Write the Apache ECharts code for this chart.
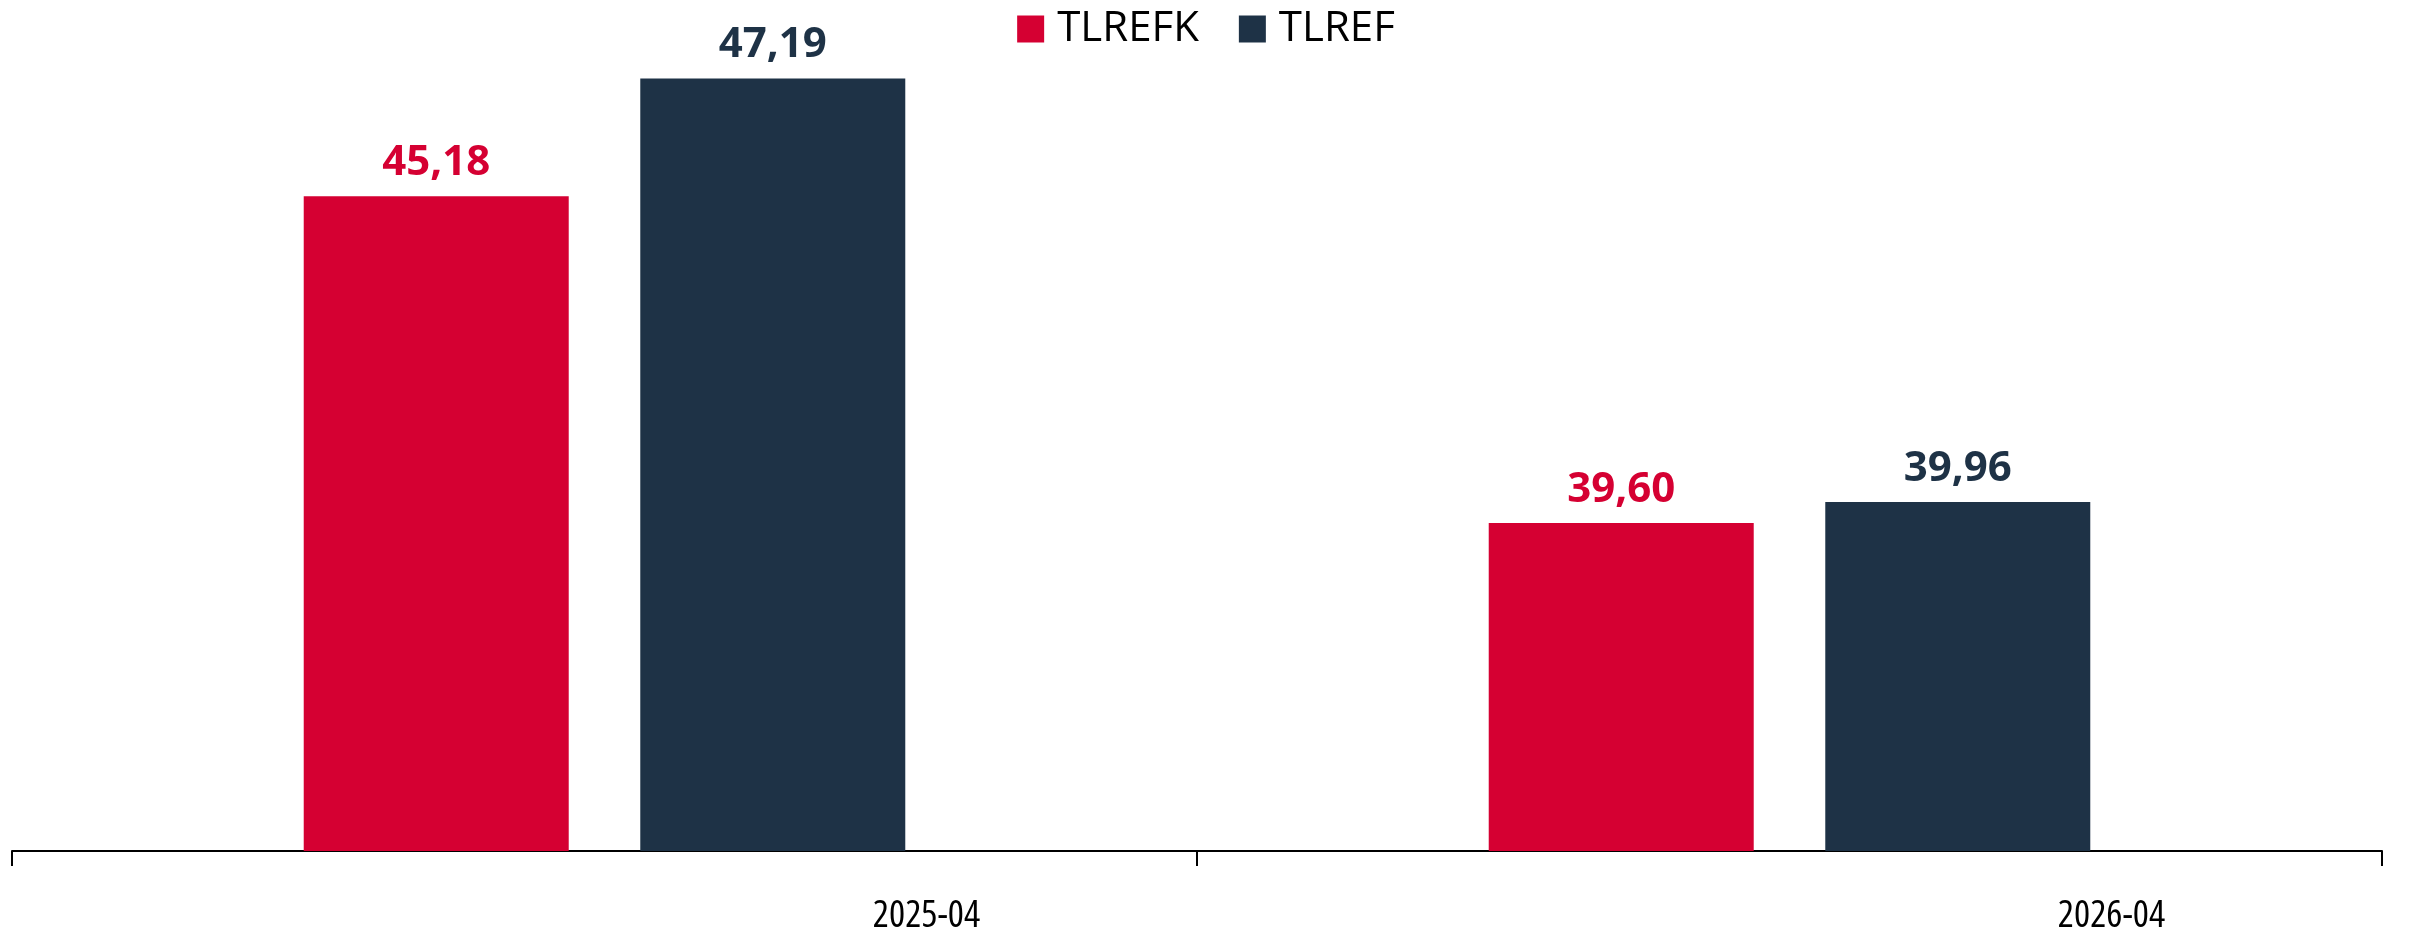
<!DOCTYPE html>
<html>
<head>
<meta charset="utf-8">
<title>TLREFK / TLREF</title>
<script src="https://cdn.jsdelivr.net/npm/echarts@6/dist/echarts.min.js"></script>
<style>
  html, body { margin: 0; padding: 0; background: #fff; }
  #chart { width: 2412px; height: 938px; }
</style>
</head>
<body>
<div id="chart"></div>
<script>
// veriler
const categories = ['2025-04', '2026-04'];
const tlrefkValues = [45.18, 39.60];
const tlrefValues = [47.19, 39.96];

const RED = '#D50032';
const NAVY = '#1E3246';
const FONT = '"Open Sans", "Noto Sans", sans-serif';

const fmt = (p) => p.value.toFixed(2).replace('.', ',');

const myChart = echarts.init(document.getElementById('chart'));

const options = {
  animation: false,
  textStyle: { fontFamily: FONT },
  grid: {
    left: 12,
    right: 30,
    top: 31,
    bottom: 87
  },
  legend: {
    top: 3,
    left: 'center',
    itemWidth: 27,
    itemHeight: 27,
    itemGap: 40,
    icon: 'rect',
    textStyle: {
      fontFamily: FONT,
      fontSize: 42,
      color: '#000',
      padding: [0, 0, 0, 8]
    },
    data: ['TLREFK', 'TLREF']
  },
  xAxis: {
    type: 'category',
    data: categories,
    axisLine: { lineStyle: { color: '#000', width: 2 } },
    axisTick: { show: true, length: 15, lineStyle: { color: '#000', width: 2 } },
    axisLabel: {
      interval: 0,
      margin: 46,
      fontFamily: FONT,
      fontStyle: 'semi-condensed',
      fontSize: 38,
      color: '#000',
      // etiket kategorinin sağına kaymış
      padding: [0, 0, 0, 644]
    }
  },
  yAxis: {
    type: 'value',
    min: 34,
    max: 48,
    show: false,
    splitLine: { show: false }
  },
  series: [
    {
      name: 'TLREFK',
      type: 'bar',
      data: tlrefkValues,
      barWidth: 265,
      barGap: '27%',
      itemStyle: { color: RED },
      label: {
        show: true,
        position: 'top',
        distance: 12,
        formatter: fmt,
        fontFamily: FONT,
        fontSize: 42,
        fontWeight: 'bold',
        color: RED
      }
    },
    {
      name: 'TLREF',
      type: 'bar',
      data: tlrefValues,
      barWidth: 265,
      barGap: '27%',
      itemStyle: { color: NAVY },
      label: {
        show: true,
        position: 'top',
        distance: 12,
        formatter: fmt,
        fontFamily: FONT,
        fontSize: 42,
        fontWeight: 'bold',
        color: NAVY
      }
    }
  ]
};

myChart.setOption(options);
</script>
</body>
</html>
